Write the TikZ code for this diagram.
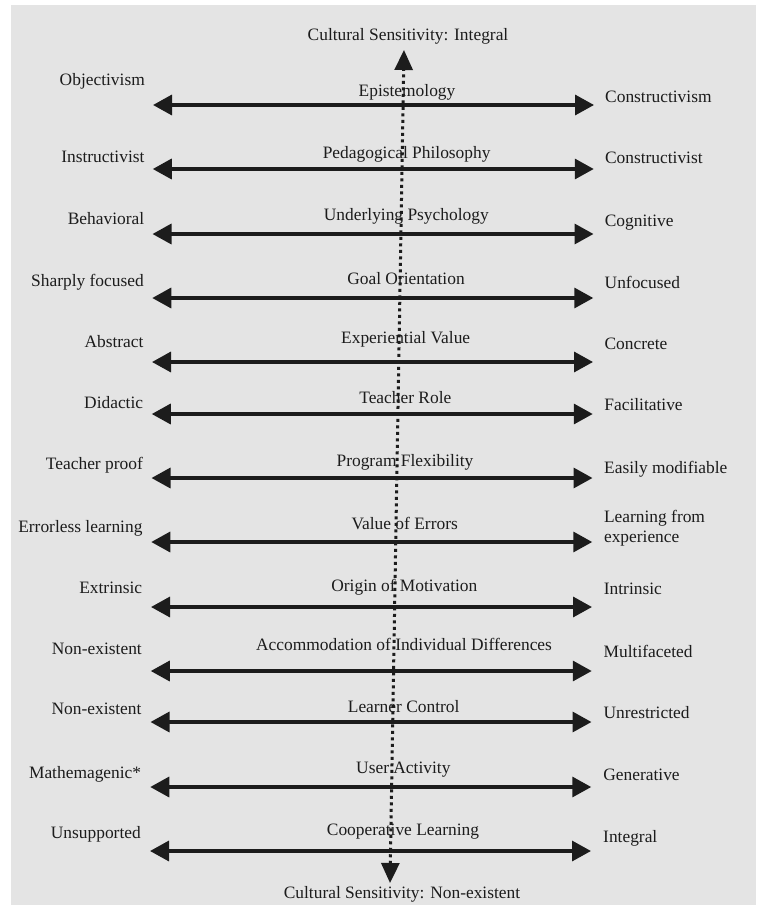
\documentclass[tikz,border=0pt]{standalone}
\usepackage{fontspec}
\setmainfont{Liberation Serif}
\usetikzlibrary{arrows.meta}
\definecolor{paper}{HTML}{E4E4E4}
\definecolor{ink}{HTML}{1C1C1C}
\begin{document}
\begin{tikzpicture}[x=1pt,y=-1pt,
  lbl/.style={inner sep=0pt, text=ink, font=\fontsize{17.4}{20}\selectfont},
  spanarrow/.style={line width=3.4pt, draw=ink,
    {Triangle[length=19pt,width=20pt]}-{Triangle[length=19pt,width=20pt]}},
  culturearrow/.style={line width=3pt, draw=ink, dash pattern=on 3pt off 3.5pt,
    {Triangle[length=20pt,width=18pt]}-{Triangle[length=20pt,width=18pt]}}]
\useasboundingbox (0,0) rectangle (756,907);
\fill[white] (0,0) rectangle (756,907);
\fill[paper] (11,5) rectangle (756,905);

% one row per dimension: arrow y / left label y / left text / middle y / middle text / right y / right text
\foreach \i/\ay/\ly/\lt/\my/\mt/\ry/\rt in {
  1/105/79/Objectivism/90/Epistemology/96/Constructivism,
  2/169/156/Instructivist/152/Pedagogical Philosophy/157/Constructivist,
  3/234/218/Behavioral/214/Underlying Psychology/220/Cognitive,
  4/298/280/Sharply focused/278/Goal Orientation/282/Unfocused,
  5/362/341/Abstract/337/Experiential Value/343/Concrete,
  6/414/402/Didactic/397/Teacher Role/404/Facilitative,
  7/478/463/Teacher proof/460/Program Flexibility/467/Easily modifiable,
  8/542/526/Errorless learning/523/Value of Errors/528/{Learning from\\experience},
  9/607/587/Extrinsic/585/Origin of Motivation/588/Intrinsic,
  10/671/648/Non-existent/644/Accommodation of Individual Differences/651/Multifaceted,
  11/722/708/Non-existent/706/Learner Control/712/Unrestricted,
  12/787/772/Mathemagenic*/767/User Activity/774/Generative,
  13/851/832/Unsupported/829/Cooperative Learning/836/Integral}{
  \pgfmathsetmacro\lx{145-(\i-1)/3}
  \pgfmathsetmacro\mx{407-(\i-1)/3}
  \pgfmathsetmacro\rx{605-(\i-1)/6}
  \pgfmathsetmacro\ax{153-(\i-1)/4}
  \pgfmathsetmacro\bx{594-(\i-1)/4}
  \coordinate (a\i) at (\ax,\ay);
  \coordinate (b\i) at (\bx,\ay);
  \node[lbl, anchor=base east] (L\i) at (\lx,\ly+6) {\lt};
  \node[lbl, anchor=base] (M\i) at (\mx,\my+6) {\mt};
  \ifnum\i=8
    \node[lbl, anchor=west, align=left] (R\i) at (\rx,\ry) {\rt};
  \else
    \node[lbl, anchor=base west] (R\i) at (\rx,\ry+6) {\rt};
  \fi
  \draw[spanarrow] (a\i) -- (b\i);
}

% cultural sensitivity axis, drawn over the row labels
\node[lbl, anchor=base] (T) at (408,41) {Cultural Sensitivity: Integral};
\node[lbl, anchor=base] (B) at (402,898) {Cultural Sensitivity: Non-existent};
\coordinate (vt) at (404,50);
\coordinate (vb) at (390,883);
\draw[culturearrow] (vb) -- (vt);
\end{tikzpicture}
\end{document}
